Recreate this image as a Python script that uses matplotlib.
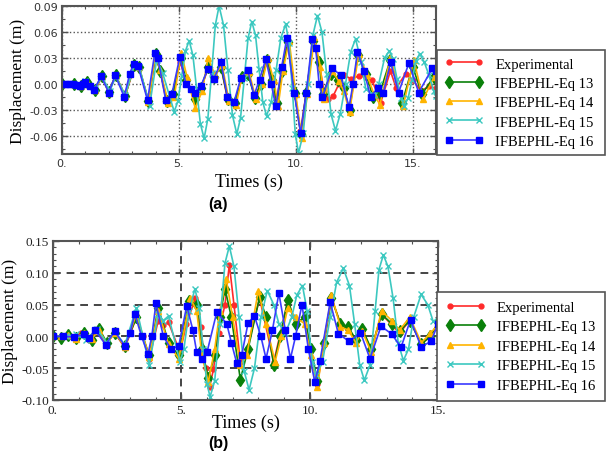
import matplotlib
matplotlib.use("Agg")
import matplotlib.pyplot as plt
from matplotlib.ticker import MultipleLocator

# ---------------- data: panel (a) ----------------
RED_A = [(0,0),(0.5,0),(0.8,-0.002),(1.05,0.002),(1.4,-0.008),(1.7,0.008),(2.0,-0.009),(2.3,0.009),(2.7,-0.014),(3.1,0.02),(3.3,0.018),(3.7,-0.02),(4.0,0.032),(4.2,0.015),(4.45,-0.018),(4.75,-0.01),(5.05,0.025),(5.3,0.005),(5.65,-0.012),(5.95,-0.005),(6.25,0.018),(6.5,0.008),(6.8,0.02),(7.1,-0.02),(7.4,-0.024),(7.65,0.005),(7.95,0.013),(8.25,-0.015),(8.5,0.0),(8.75,0.027),(8.95,0.005),(9.15,-0.023),(9.4,0.015),(9.65,0.05),(9.95,-0.01),(10.2,-0.055),(10.45,-0.01),(10.75,0.048),(11.0,0.025),(11.2,-0.008),(11.4,-0.018),(11.6,-0.014),(11.85,0.0),(12.07,0.010),(12.35,0.006),(12.7,0.009),(13.0,0.008),(13.27,0.004),(13.63,-0.022),(14.05,0.015),(14.3,-0.005),(14.7,0.012),(15.0,0.005),(15.35,-0.008),(15.7,-0.003),(16.0,-0.005)]
GREEN_A = [(0,0),(0.5,0),(0.8,-0.002),(1.05,0.002),(1.4,-0.007),(1.7,0.009),(2.0,-0.009),(2.3,0.01),(2.7,-0.014),(3.1,0.022),(3.3,0.019),(3.7,-0.02),(4.0,0.034),(4.2,0.015),(4.5,-0.02),(4.75,-0.012),(5.08,0.03),(5.3,0.005),(5.7,-0.018),(5.95,-0.005),(6.25,0.02),(6.5,0.008),(6.8,0.02),(7.1,-0.018),(7.4,-0.022),(7.7,0.008),(7.95,0.012),(8.25,-0.016),(8.5,0.0),(8.78,0.028),(9.0,0.005),(9.2,-0.022),(9.4,0.015),(9.68,0.048),(9.95,-0.01),(10.22,-0.058),(10.45,-0.01),(10.75,0.05),(11.0,0.025),(11.15,-0.012),(11.5,0.012),(11.8,0.005),(12.05,-0.005),(12.3,-0.03),(12.65,0.033),(13.0,0.012),(13.3,-0.015),(13.6,-0.01),(14.05,0.028),(14.55,-0.022),(15.0,0.02),(15.4,-0.012),(15.9,0.008),(16.0,0.005)]
YELLOW_A = [(0,0),(0.5,0),(0.8,-0.002),(1.05,0.002),(1.4,-0.007),(1.7,0.009),(2.0,-0.01),(2.3,0.01),(2.7,-0.014),(3.1,0.023),(3.3,0.02),(3.7,-0.021),(4.0,0.035),(4.2,0.016),(4.55,-0.022),(4.8,-0.015),(5.1,0.036),(5.35,0.008),(5.7,-0.028),(6.0,-0.008),(6.25,0.03),(6.55,0.01),(6.85,0.022),(7.15,-0.02),(7.45,-0.024),(7.7,0.008),(8.0,0.014),(8.3,-0.018),(8.55,0.0),(8.8,0.03),(9.05,0.005),(9.25,-0.025),(9.45,0.015),(9.72,0.05),(10.0,-0.012),(10.25,-0.062),(10.5,-0.012),(10.8,0.054),(11.05,0.02),(11.2,-0.018),(11.55,0.015),(11.85,0.003),(12.05,-0.008),(12.3,-0.032),(12.7,0.035),(13.05,0.01),(13.35,-0.012),(13.6,-0.024),(14.05,0.03),(14.6,-0.025),(15.05,0.028),(15.45,-0.018),(15.95,0.01),(16.0,0.008)]
CYAN_A = [(0,0),(0.5,0),(0.8,-0.002),(1.0,0.003),(1.4,-0.005),(1.7,0.008),(2.05,-0.008),(2.3,0.009),(2.7,-0.013),(3.1,0.022),(3.3,0.02),(3.75,-0.025),(4.05,0.028),(4.3,0.013),(4.8,-0.032),(4.96,-0.02),(5.12,0.009),(5.28,0.038),(5.44,0.050),(5.6,0.033),(5.76,-0.006),(5.92,-0.046),(6.08,-0.063),(6.24,-0.04),(6.4,0.013),(6.56,0.068),(6.72,0.09),(6.91,0.068),(7.1,0.016),(7.29,-0.036),(7.48,-0.058),(7.64,-0.039),(7.8,0.007),(7.96,0.053),(8.12,0.072),(8.28,0.056),(8.43,0.017),(8.59,-0.021),(8.75,-0.037),(8.95,-0.021),(9.16,0.016),(9.36,0.053),(9.57,0.069),(9.71,0.047),(9.85,-0.005),(9.98,-0.058),(10.12,-0.08),(10.32,-0.057),(10.52,0.0),(10.73,0.056),(10.93,0.079),(11.12,0.06),(11.32,0.012),(11.51,-0.035),(11.7,-0.054),(11.9,-0.035),(12.13,0.0),(12.35,0.037),(12.56,0.052),(12.8,0.025),(13.0,-0.006),(13.35,-0.013),(13.55,0.0),(13.8,0.03),(14.0,0.038),(14.16,0.029),(14.33,0.006),(14.49,-0.016),(14.65,-0.025),(14.81,-0.016),(14.98,0.005),(15.14,0.026),(15.3,0.035),(15.5,0.025),(15.7,0.01),(15.9,-0.008),(16.0,-0.014)]
BLUE_A = [(0,0),(0.15,0),(0.3,0),(0.45,0),(0.6,-0.001),(0.75,-0.002),(0.9,0.0),(1.0,0.002),(1.2,-0.002),(1.38,-0.007),(1.67,0.009),(2.0,-0.010),(2.28,0.010),(2.66,-0.015),(2.9,0.012),(3.06,0.023),(3.25,0.021),(3.66,-0.019),(3.97,0.036),(4.1,0.03),(4.44,-0.019),(4.7,-0.012),(5.04,0.031),(5.3,0.0),(5.5,-0.006),(5.7,-0.010),(5.95,-0.002),(6.23,0.017),(6.5,0.006),(6.8,0.025),(7.08,-0.015),(7.36,-0.021),(7.65,0.007),(7.94,0.016),(8.22,-0.013),(8.45,0.005),(8.72,0.029),(8.95,0.0),(9.15,-0.026),(9.4,0.02),(9.62,0.053),(9.93,-0.01),(10.21,-0.057),(10.45,-0.01),(10.71,0.052),(10.85,0.042),(11.0,0.0),(11.14,-0.015),(11.57,0.018),(11.92,0.01),(12.28,-0.027),(12.45,0.0),(12.64,0.037),(12.92,0.015),(13.2,-0.015),(13.5,-0.005),(13.75,-0.01),(14.06,0.025),(14.4,-0.01),(14.84,0.024),(15.26,-0.01),(15.84,0.018),(16.0,0.015)]

# ---------------- data: panel (b) ----------------
RED_B = [(0,0),(0.4,0.0),(0.8,-0.003),(1.1,0.005),(1.4,-0.006),(1.7,0.01),(2.05,-0.012),(2.4,0.006),(2.8,-0.018),(3.25,0.03),(3.5,0.0),(3.75,-0.035),(4.1,0.025),(4.3,0.018),(4.5,0.022),(4.95,-0.025),(5.2,0.02),(5.55,0.06),(5.75,0.015),(5.95,-0.05),(6.1,-0.08),(6.25,-0.052),(6.45,0.005),(6.7,0.05),(6.87,0.113),(7.05,0.05),(7.3,-0.04),(7.5,-0.03),(8.05,0.06),(8.6,-0.04),(9.15,0.055),(9.45,0.02),(9.8,0.03),(10.3,-0.075),(10.85,0.06),(11.2,0.02),(11.5,0.012),(11.8,-0.008),(12.05,0.01),(12.4,-0.022),(12.8,0.035),(13.2,0.018),(13.5,0.005),(13.9,0.025),(14.35,-0.012),(14.7,0.0),(15.0,0.02)]
GREEN_B = [(0,0),(0.3,-0.002),(0.6,0.002),(0.9,-0.003),(1.2,0.005),(1.5,-0.005),(1.8,0.012),(2.1,-0.01),(2.4,0.005),(2.8,-0.015),(3.25,0.03),(3.75,-0.03),(4.1,0.045),(4.5,-0.01),(4.9,-0.03),(5.3,0.055),(5.6,0.05),(5.8,-0.02),(6.05,-0.065),(6.3,-0.03),(6.5,0.03),(6.7,0.075),(6.95,0.03),(7.3,-0.068),(7.6,-0.02),(8.05,0.062),(8.3,0.03),(8.6,-0.045),(8.85,0.0),(9.15,0.058),(9.45,0.02),(9.8,0.03),(10.05,-0.02),(10.3,-0.07),(10.55,-0.01),(10.85,0.06),(11.2,0.02),(11.5,0.015),(11.8,-0.005),(12.05,0.012),(12.4,-0.02),(12.8,0.035),(13.2,0.02),(13.5,0.008),(13.9,0.025),(14.35,-0.012),(14.7,0.0),(15.0,0.022)]
YELLOW_B = [(0,0),(0.3,0.0),(0.6,0.002),(0.9,-0.004),(1.2,0.006),(1.5,-0.004),(1.8,0.01),(2.1,-0.012),(2.4,0.006),(2.8,-0.016),(3.25,0.035),(3.75,-0.032),(4.1,0.04),(4.5,-0.012),(4.9,-0.035),(5.35,0.06),(5.6,0.04),(5.8,-0.03),(6.05,-0.072),(6.3,-0.02),(6.5,0.04),(6.75,0.09),(7.0,0.03),(7.3,-0.045),(7.55,-0.03),(8.0,0.072),(8.3,0.02),(8.65,-0.04),(8.9,0.0),(9.15,0.045),(9.45,0.03),(9.8,0.02),(10.05,-0.03),(10.3,-0.08),(10.55,-0.01),(10.85,0.065),(11.2,0.015),(11.5,0.01),(11.8,-0.01),(12.05,0.008),(12.4,-0.025),(12.8,0.04),(13.2,0.025),(13.5,0.01),(13.9,0.03),(14.35,-0.01),(14.7,0.005),(15.0,0.018)]
CYAN_B = [(0,0),(0.5,0),(0.9,0.003),(1.3,-0.005),(1.7,0.012),(2.1,-0.01),(2.4,0.008),(2.8,-0.013),(3.25,0.045),(3.75,-0.045),(4.1,0.035),(4.3,0.025),(4.5,0.032),(4.95,-0.04),(5.1,-0.02),(5.3,0.04),(5.53,0.075),(5.7,0.045),(5.85,-0.02),(6.0,-0.075),(6.12,-0.095),(6.3,-0.07),(6.5,0.02),(6.7,0.115),(6.87,0.142),(7.05,0.11),(7.25,0.03),(7.45,-0.055),(7.64,-0.084),(7.85,-0.05),(8.1,0.03),(8.35,0.072),(8.6,0.05),(8.8,0.02),(9.05,0.005),(9.3,0.03),(9.5,0.065),(9.72,0.08),(9.9,0.04),(10.1,-0.04),(10.25,-0.06),(10.5,-0.04),(10.8,0.03),(11.05,0.085),(11.31,0.107),(11.55,0.08),(11.75,0.02),(11.95,-0.045),(12.13,-0.069),(12.35,-0.045),(12.55,0.04),(12.7,0.105),(12.87,0.128),(13.05,0.11),(13.25,0.06),(13.45,-0.01),(13.65,-0.038),(13.85,-0.02),(14.05,0.03),(14.34,0.066),(14.6,0.05),(14.8,0.025),(15.0,0.02)]
BLUE_B = [(0,0),(0.4,0),(0.8,-0.001),(1.2,0.003),(1.4,-0.003),(1.64,0.010),(2.05,-0.013),(2.4,0.008),(2.8,-0.015),(3.0,0.005),(3.19,0.035),(3.45,0.0),(3.7,-0.028),(3.85,0.0),(4.01,0.052),(4.3,0.0),(4.6,-0.02),(4.9,-0.015),(5.21,0.048),(5.45,0.01),(5.6,-0.025),(5.8,-0.035),(6.0,-0.025),(6.38,0.038),(6.77,0.02),(6.95,-0.01),(7.16,-0.042),(7.35,-0.03),(7.6,0.021),(7.85,0.032),(8.1,0.0),(8.3,-0.035),(8.55,0.01),(8.8,0.068),(9.05,0.01),(9.25,-0.035),(9.45,0.0),(9.7,0.05),(9.95,-0.02),(10.2,-0.072),(10.4,-0.039),(10.8,0.054),(11.12,0.004),(11.55,-0.008),(11.98,0.006),(12.35,-0.035),(12.78,0.016),(13.19,0.004),(13.56,-0.017),(13.93,0.026),(14.34,-0.016),(14.73,-0.008),(15.0,0.02)]

LABELS = ["Experimental", "IFBEPHL-Eq 13", "IFBEPHL-Eq 14", "IFBEPHL-Eq 15", "IFBEPHL-Eq 16"]
XTICKS_A = [0, 5, 10, 15]
XTICKLABELS_A = ["0.", "5.", "10.", "15."]
YTICKS_A = [-0.06, -0.03, 0.0, 0.03, 0.06, 0.09]
YTICKLABELS_A = ["-0.06", "-0.03", "0.00", "0.03", "0.06", "0.09"]
XTICKS_B = [0, 5, 10, 15]
XTICKLABELS_B = ["0.", "5.", "10.", "15."]
YTICKS_B = [-0.10, -0.05, 0.0, 0.05, 0.10, 0.15]
YTICKLABELS_B = ["-0.10", "-0.05", "0.00", "0.05", "0.10", "0.15"]

STYLES = [
    dict(color="#ff2a2a", marker="o", ms=3.5, mec="#ff2a2a", mfc="#ff2a2a", lw=1.2),
    dict(color="#0a800a", marker="d", ms=6.5, mec="#0a800a", mfc="#0a800a", lw=1.2),
    dict(color="#ffb400", marker="^", ms=4.5, mec="#ffb400", mfc="#ffb400", lw=1.2),
    dict(color="#3cc8c0", marker="x", ms=4.5, mec="#3cc8c0", mew=1.0, lw=1.2),
    dict(color="#3a3aff", marker="s", ms=4.5, mec="#0000ff", mfc="#0000ff", lw=1.2),
]

SERIF = ["Liberation Serif", "DejaVu Serif"]
H = 456.0
W = 609.0

fig = plt.figure(figsize=(6.09, 4.56), dpi=100)

def split(pairs):
    return [p[0] for p in pairs], [p[1] for p in pairs]

def panel(rect, series, xlim, ylim, xt, xtl, yt, ytl, grid_ls, grid_c, grid_lw,
          tickfont, tickcolor, ymin_step, legrect, lspace, bpad, xlpad, tag, tagy):
    ax = fig.add_axes(rect)
    handles = []
    for s, st in zip(series, STYLES):
        x, y = split(s)
        h, = ax.plot(x, y, **st)
        handles.append(h)
    ax.set_xlim(*xlim)
    ax.set_ylim(*ylim)
    ax.set_xticks(xt)
    ax.set_xticklabels(xtl)
    ax.set_yticks(yt)
    ax.set_yticklabels(ytl)
    ax.yaxis.set_minor_locator(MultipleLocator(ymin_step))
    ax.xaxis.set_minor_locator(MultipleLocator(1))
    ax.tick_params(which="both", direction="in", top=True, right=True, color="#505050")
    ax.tick_params(which="major", length=4, width=1, pad=3)
    ax.tick_params(which="minor", length=2, width=0.8)
    for lab in ax.get_xticklabels() + ax.get_yticklabels():
        lab.set_family(tickfont[0])
        lab.set_fontsize(tickfont[1])
        lab.set_color(tickcolor)
    ax.grid(True, which="major", ls=grid_ls, color=grid_c, lw=grid_lw)
    ax.set_axisbelow(True)
    for sp in ax.spines.values():
        sp.set_color("#555555")
        sp.set_linewidth(1.5)
    ax.set_xlabel("Times (s)", family=SERIF, fontsize=13, labelpad=xlpad)
    ax.set_ylabel("Displacement (m)", family=SERIF, fontsize=12.5, labelpad=2)
    leg = fig.legend(handles, LABELS, loc="upper left", bbox_to_anchor=legrect,
                     mode="expand", numpoints=2, handlelength=2.7, handletextpad=0.8,
                     labelspacing=lspace, borderpad=bpad, borderaxespad=0.0,
                     prop=dict(family=SERIF, size=10.5), fancybox=False,
                     edgecolor="#555555", framealpha=1)
    leg.get_frame().set_linewidth(1.2)
    fig.text(218/W, tagy, tag, ha="center", va="center", fontsize=11.5,
             fontweight="bold", family=["Liberation Sans", "DejaVu Sans"])
    return ax

ax1 = panel([62/W, 1-155/H, 374/W, 148/H],
            [RED_A, GREEN_A, YELLOW_A, CYAN_A, BLUE_A],
            (0, 16), (-0.081, 0.09), XTICKS_A, XTICKLABELS_A, YTICKS_A, YTICKLABELS_A,
            ":", "#555555", 1.0, ("DejaVu Sans", 8), "#333333", 0.015,
            (437/W, 1-51/H, 168/W, 0.0), 0.42, 0.5, 3, "(a)", 1-205/H)

ax2 = panel([53/W, 1-401/H, 385/W, 159/H],
            [RED_B, GREEN_B, YELLOW_B, CYAN_B, BLUE_B],
            (0, 15), (-0.10, 0.15), XTICKS_B, XTICKLABELS_B, YTICKS_B, YTICKLABELS_B,
            (0, (4, 3)), "#444444", 1.4, (SERIF[0], 9.5), "#222222", 0.01,
            (437/W, 1-293/H, 168/W, 0.0), 0.43, 0.6, -2, "(b)", 1-444/H)

fig.savefig("out.png", dpi=100)
